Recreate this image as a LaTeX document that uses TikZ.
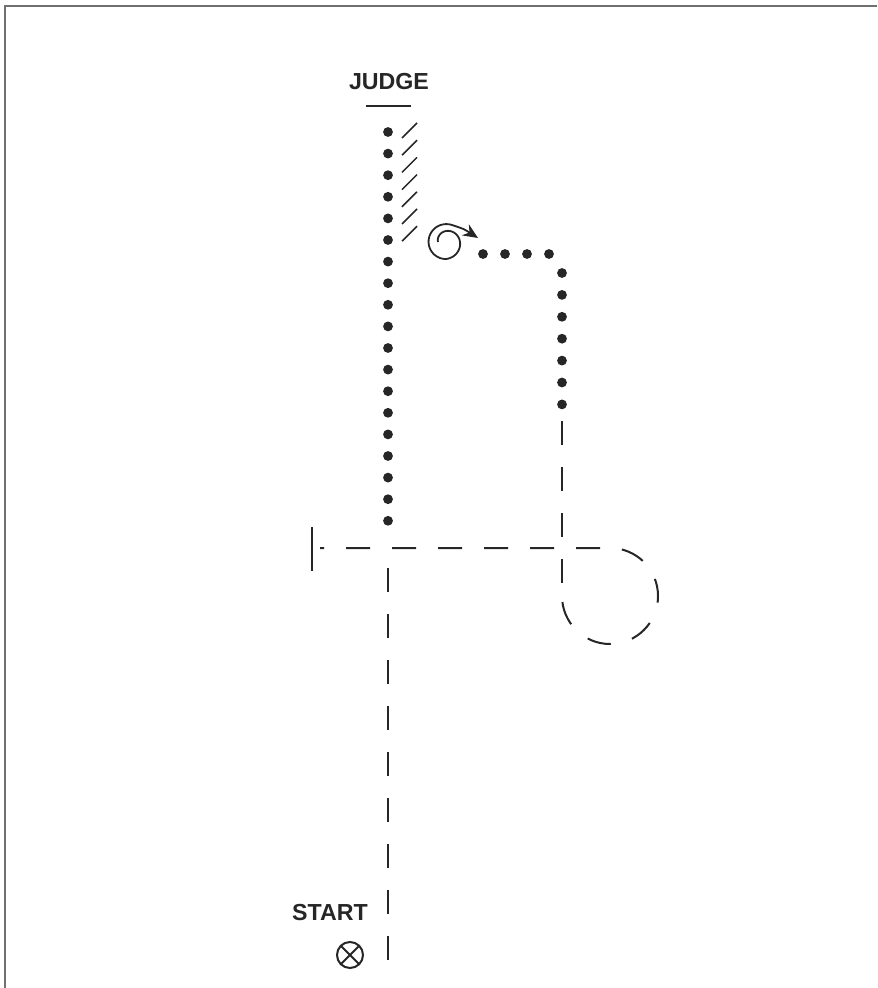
\documentclass[tikz,border=0pt]{standalone}
\usepackage{fontspec}
\setmainfont{Liberation Sans}
\usetikzlibrary{arrows.meta}

\definecolor{ink}{HTML}{262626}
\definecolor{framegray}{HTML}{707070}

\begin{document}
\begin{tikzpicture}[
    x=0.5pt, y=-0.5pt,
    frame/.style    = {draw=framegray, line width=1pt},
    walkdot/.style  = {fill=ink},
    trot/.style     = {draw=ink, line width=1pt, dash pattern=on 12pt off 11pt},
    hatch/.style    = {draw=ink, line width=0.75pt},
    thin/.style     = {draw=ink, line width=0.9pt},
    lbl/.style      = {font=\fontsize{11.6}{13}\selectfont\bfseries, text=ink,
                       inner sep=0pt},
]

% ============================================================
%  PAGE  (877 x 988, origin top-left, y downwards)
% ============================================================
\useasboundingbox (0,0) rectangle (877,988);
\draw[frame] (5,988) -- (5,6) -- (877,6);

% ----------------------------------------------------------
%  JUDGE  with marker bar
% ----------------------------------------------------------
\node[lbl] (judge) at (389,82) {JUDGE};
\draw[hatch] (366,106) -- (411,106);

% ----------------------------------------------------------
%  WALK  -- dotted centre line towards judge
% ----------------------------------------------------------
\foreach \i in {0,...,18}
    \fill[walkdot] (388,132+21.6*\i) circle[radius=4.9];

% hatching beside the last part of the walk
\foreach \i in {0,...,6}
    \draw[hatch] (402,138+17.2*\i) -- (417,123+17.2*\i);

% ----------------------------------------------------------
%  TURN  -- spiral with arrow
% ----------------------------------------------------------
\draw[thin, -{Stealth[length=7.5pt, width=6.5pt]}]
    plot[domain=180:450, samples=40, smooth]
        ({446+(8+9*(\x-180)/270)*cos(\x)}, {242+(8+9*(\x-180)/270)*sin(\x)})
    -- plot[domain=450:650, samples=30, smooth]
        ({446+(17+(\x-450)/200)*cos(\x)}, {242+(17+(\x-450)/200)*sin(\x)})
    .. controls (464,229) .. (478,238);

% ----------------------------------------------------------
%  WALK  -- dotted return leg
% ----------------------------------------------------------
\foreach \xx in {483,505,527,549}
    \fill[walkdot] (\xx,254) circle[radius=4.9];
\foreach \i in {0,...,6}
    \fill[walkdot] (562,273+21.9*\i) circle[radius=4.9];

% ============================================================
%  TROT  -- dashed lines
% ============================================================
% stop bar on the left
\draw[thin, line width=1pt] (312,527) -- (312,571);

% diagonal line across with the circle at the end
\draw[trot, dash phase=10pt] (320,548) -- (610,548)
    arc[start angle=-90, end angle=180, radius=48];

% dashed leg up to the dots
\draw[trot] (562,583) -- (562,421);

% dashed centre line from start
\draw[trot] (388,568) -- (388,961);

% ----------------------------------------------------------
%  START  with marker
% ----------------------------------------------------------
\node[lbl] (start) at (330,913) {START};
\draw[thin, line width=1pt] (350,955) circle[radius=13];
\draw[thin, line width=1pt] (340.8,945.8) -- (359.2,964.2)
                            (340.8,964.2) -- (359.2,945.8);

\end{tikzpicture}
\end{document}
